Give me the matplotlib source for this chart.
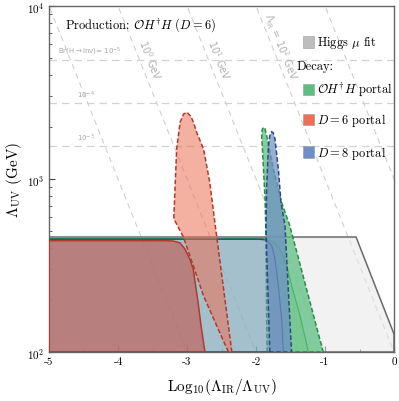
import numpy as np
import matplotlib
matplotlib.use("Agg")
import matplotlib.pyplot as plt
from matplotlib.colors import to_rgba
from matplotlib.patches import Rectangle

plt.rcParams['font.family'] = 'cmr10'
plt.rcParams['mathtext.fontset'] = 'cm'
plt.rcParams['axes.formatter.use_mathtext'] = True

# ---- data (x = log10(L_IR/L_UV), y = L_UV in GeV) ----
higgs_x = [-5, -5, -0.55, 0, 0]
higgs_y = [100, 462, 462, 127, 100]

green_big_x = [-5, -5, -1.90, -1.80, -1.72, -1.652, -1.555, -1.483, -1.362, -1.24]
green_big_y = [100, 452, 452, 445, 425, 394, 316, 242, 162, 100]
green_tongue_x = [-1.84, -1.86, -1.87, -1.894, -1.918, -1.91, -1.894, -1.87, -1.845,
                  -1.797, -1.749, -1.63, -1.51, -1.026]
green_tongue_y = [100, 562, 776, 1202, 1791, 1930, 1990, 1950, 1778, 1426, 1143, 733, 537, 100]

blue_big_x = [-5, -5, -1.95, -1.85, -1.77, -1.725, -1.676, -1.628, -1.604]
blue_big_y = [100, 448, 448, 444, 411, 345, 242, 155, 100]
blue_tongue_x = [-1.80, -1.855, -1.845, -1.82, -1.80, -1.773, -1.75, -1.725, -1.676,
                 -1.638, -1.58, -1.485]
blue_tongue_y = [100, 514, 914, 1556, 1780, 1875, 1850, 1702, 1143, 733, 537, 100]

red_big_x = [-5, -5, -3.30, -3.20, -3.10, -3.03, -2.96, -2.91, -2.84, -2.79, -2.74]
red_big_y = [100, 440, 440, 438, 427, 394, 345, 302, 194, 136, 100]
red_tongue_x = [-2.40, -2.57, -2.76, -2.91, -3.05, -3.19, -3.19, -3.17, -3.15, -3.10,
                -3.05, -3.00, -2.94, -2.90, -2.86, -2.76, -2.67, -2.59, -2.35]
red_tongue_y = [100, 142, 211, 316, 460, 588, 614, 957, 1489, 2128, 2371, 2432, 2291,
                2089, 1862, 1489, 957, 537, 100]

br_levels = [r"Br(H$\rightarrow$Inv)= $10^{-5}$", r"$10^{-4}$", r"$10^{-3}$"]
br_uv = [4875, 2761, 1560]

ir_powers = [-1, 0, 1, 2, 3]
ir_labels = {0: r"$10^0$ GeV", 1: r"$10^1$ GeV", 2: r"$\Lambda_{\rm IR}$ = $10^2$ GeV"}
ir_label_pos = {0: (-3.53, 4910), 1: (-2.53, 4940), 2: (-1.65, 5900)}

x_ticks = [-5, -4, -3, -2, -1, 0]
x_ticklabels = ["-5", "-4", "-3", "-2", "-1", "0"]

GREEN, GREEN_E = "#5cbf7f", "#2a8a4a"
RED, RED_E = "#ec6f55", "#b23a2a"
BLUE, BLUE_E = "#6f8fc5", "#2e4a85"

fig = plt.figure(figsize=(3.99, 4.02), dpi=100)
ax = fig.add_axes([49 / 399, 1 - 353 / 402, 345 / 399, 346 / 402])
ax.set_yscale('log')
ax.set_xlim(-5, 0)
ax.set_ylim(100, 1e4)

# reference lines
xx = np.array([-6.0, 1.0])
for n in ir_powers:
    ax.plot(xx, 10.0 ** (n - xx), color='#cfcfcf', lw=0.8, ls=(0, (5, 4)), zorder=1)
for lvl in br_uv:
    ax.axhline(lvl, color='#d2d2d2', lw=0.9, ls=(0, (6, 4)), zorder=1)

for i, (lab, lvl) in enumerate(zip(br_levels, br_uv)):
    xpos = -4.87 if i == 0 else -4.6
    ax.text(xpos, lvl * 1.04, lab, fontsize=5, color='#a8a8a8', family='DejaVu Sans',
            math_fontfamily='dejavusans', va='bottom', ha='left')
for n, lab in ir_labels.items():
    px, py = ir_label_pos[n]
    ax.text(px, py, lab, fontsize=7, color='#b0b0b0', family='DejaVu Sans',
            math_fontfamily='dejavusans', rotation=-68.3, rotation_mode='anchor',
            ha='center', va='center')


def region(x, y, face, edge, alpha, ls, z, lw=1.1):
    ax.fill(x, y, facecolor=to_rgba(face, alpha), edgecolor=edge, lw=lw,
            linestyle=ls, zorder=z)


region(higgs_x, higgs_y, '#e6e6e6', '#6a6a6a', 0.5, '-', 2)
region(green_big_x, green_big_y, GREEN, GREEN_E, 0.25, '-', 3, lw=0.9)
region(green_tongue_x, green_tongue_y, GREEN, GREEN_E, 0.75, (0, (3, 1.5)), 4)
region(blue_big_x, blue_big_y, '#7d9cc4', BLUE_E, 0.5, '-', 5, lw=0.9)
region(blue_tongue_x, blue_tongue_y, BLUE, BLUE_E, 0.72, (0, (3, 1.5)), 6)
region(red_big_x, red_big_y, '#c4544a', RED_E, 0.6, '-', 7)
region(red_tongue_x, red_tongue_y, RED, RED_E, 0.55, (0, (3, 1.5)), 8)

# text
ax.text(0.046, 0.948, r"Production: $\mathcal{O}H^{\dagger}H$ $(D=6)$",
        transform=ax.transAxes, fontsize=9, va='center', ha='left')

legend_items = [("#bdbdbd", "Higgs $\\mu$ fit", 0.896),
                (None, "Decay:", 0.827),
                (GREEN, r"$\mathcal{O}H^{\dagger}H$ portal", 0.760),
                (RED, r"$D=6$ portal", 0.673),
                (BLUE, r"$D=8$ portal", 0.578)]
for col, lab, yy in legend_items:
    if col is None:
        ax.text(0.717, yy, lab, transform=ax.transAxes, fontsize=9, va='center', ha='left')
        continue
    ax.add_patch(Rectangle((0.737, yy - 0.016), 0.031, 0.032, transform=ax.transAxes,
                           facecolor=col, edgecolor=to_rgba('#888888', 0.5), lw=0.6,
                           zorder=10))
    ax.text(0.777, yy, lab, transform=ax.transAxes, fontsize=9, va='center', ha='left',
            zorder=10)

ax.set_xticks(x_ticks)
ax.set_xticklabels(x_ticklabels)
ax.set_xticks(np.arange(-5, 0.01, 0.5), minor=True)
ax.tick_params(which='both', direction='in', top=False, right=False, labelsize=8,
               color='#444444')
ax.tick_params(which='major', length=4)
ax.tick_params(which='minor', length=2.5)
for s in ax.spines.values():
    s.set_color('#666666')
    s.set_linewidth(1.0)

ax.set_xlabel(r"Log$_{10}(\Lambda_{\rm IR}/\Lambda_{\rm UV})$", fontsize=11, labelpad=7)
ax.set_ylabel(r"$\Lambda_{\rm UV}$ (GeV)", fontsize=11, labelpad=2)

fig.savefig("out.png", dpi=100)
